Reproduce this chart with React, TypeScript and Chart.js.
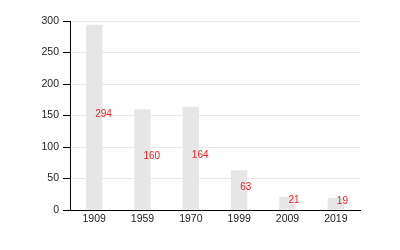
import React, { useEffect, useRef } from "react";
import { Chart, registerables } from "chart.js";

Chart.register(...registerables);

const categories = ["1909", "1959", "1970", "1999", "2009", "2019"];
const values = [294, 160, 164, 63, 21, 19];
const yTicks = [0, 50, 100, 150, 200, 250, 300];

const labelPlugin = {
  id: "barLabels",
  afterDatasetsDraw(chart: any) {
    const ctx = chart.ctx;
    const meta = chart.getDatasetMeta(0);
    ctx.save();
    ctx.font = "10px 'Liberation Sans', Arial, sans-serif";
    ctx.fillStyle = "#e8202a";
    ctx.textAlign = "left";
    ctx.textBaseline = "middle";
    meta.data.forEach((bar: any, i: number) => {
      const y = (bar.y + bar.base) / 2 - 3;
      ctx.fillText(String(values[i]), bar.x + 1, y);
    });
    ctx.restore();
  },
};

export default function App() {
  const ref = useRef<HTMLCanvasElement | null>(null);
  useEffect(() => {
    if (!ref.current) return;
    const chart = new Chart(ref.current, {
      type: "bar",
      data: {
        labels: categories,
        datasets: [
          {
            data: values,
            backgroundColor: "#e6e6e6",
            borderWidth: 0,
            barPercentage: 0.34,
            categoryPercentage: 1,
          },
        ],
      },
      options: {
        animation: false,
        responsive: true,
        maintainAspectRatio: false,
        layout: { padding: { left: 0, right: 40, top: 21, bottom: 0 } },
        plugins: { legend: { display: false }, tooltip: { enabled: false } },
        scales: {
          x: {
            grid: { display: false, drawTicks: false, tickLength: 0 },
            border: { display: true, color: "#000", width: 1 },
            ticks: {
              color: "#222",
              padding: 3,
              font: { family: "'Liberation Sans', Arial, sans-serif", size: 10.5 },
            },
            afterFit: (s: any) => {
              s.height = 40;
            },
          },
          y: {
            min: 0,
            max: 300,
            afterBuildTicks: (s: any) => {
              s.ticks = yTicks.map((v) => ({ value: v }));
            },
            grid: { color: "#e6e6e6", tickColor: "#000", tickLength: 7 },
            border: { display: true, color: "#000", width: 1 },
            ticks: {
              color: "#222",
              padding: 4,
              font: { family: "'Liberation Sans', Arial, sans-serif", size: 10.5 },
            },
            afterFit: (s: any) => {
              s.width = 70;
            },
          },
        },
      },
      plugins: [labelPlugin],
    });
    return () => chart.destroy();
  }, []);
  return (
    <div style={{ position: "fixed", left: 0, top: 0, width: 400, height: 250, background: "#fff" }}>
      <canvas ref={ref} />
    </div>
  );
}
